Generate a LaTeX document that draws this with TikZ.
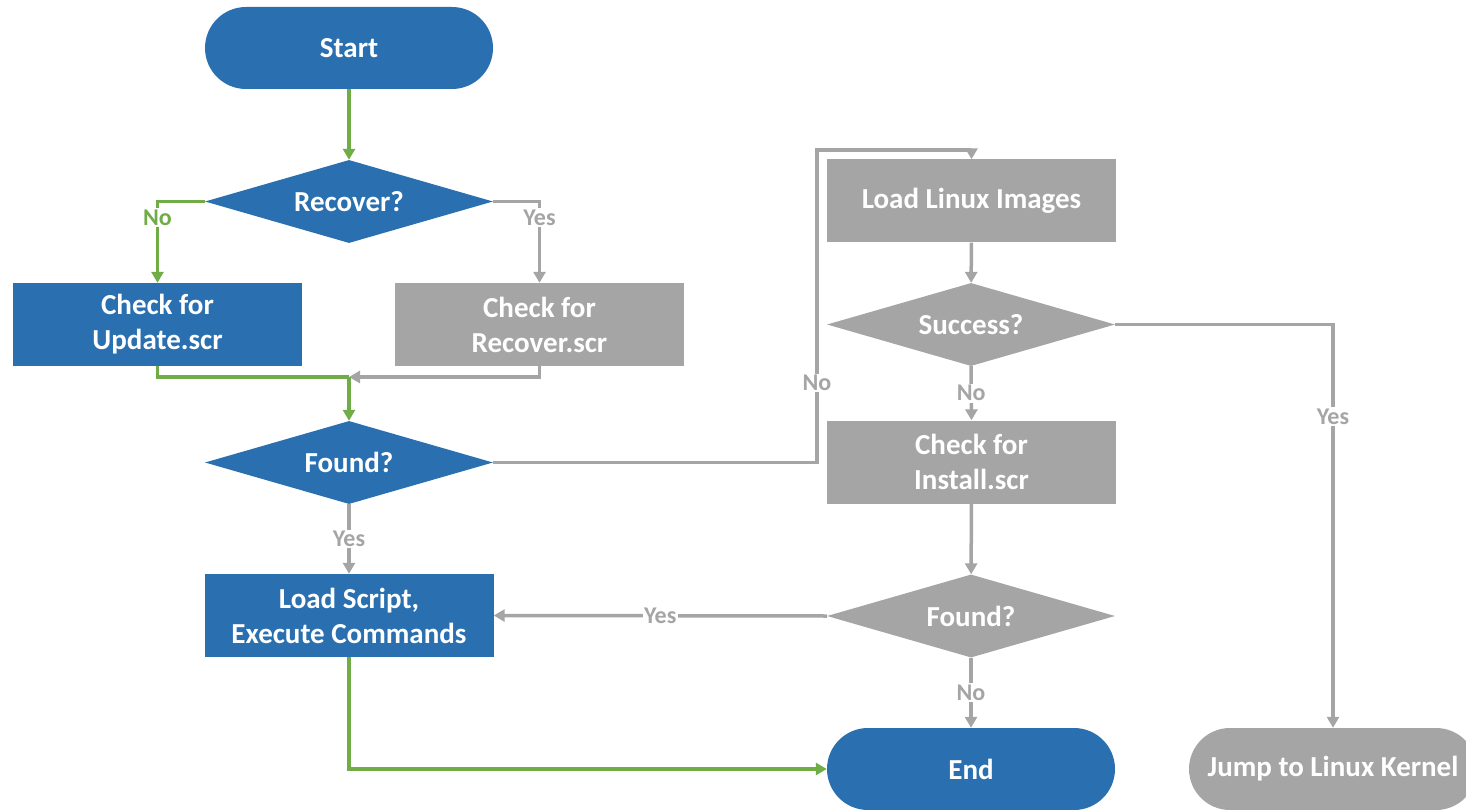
\documentclass[tikz,border=0pt]{standalone}
\usepackage{fontspec}
\setmainfont{Carlito}
\usetikzlibrary{shapes.geometric,arrows.meta}
\definecolor{flowblue}{HTML}{2A70B0}
\definecolor{flowgray}{HTML}{A5A5A5}
\definecolor{flowgreen}{HTML}{70AD47}
\tikzset{
  x=1pt, y=-1pt,
  base/.style={draw=none, text=white, font=\fontsize{29}{35}\selectfont\bfseries, align=center, inner sep=0pt},
  term/.style={base, rectangle, rounded corners=41pt, minimum width=288pt, minimum height=82pt},
  proc/.style={base, rectangle, minimum width=289pt, minimum height=83pt},
  decide/.style={base, diamond, shape aspect=3.47, minimum width=288pt, minimum height=83pt},
  conn/.style={line width=3.5pt, -{Triangle[length=11pt,width=12pt]}},
  gline/.style={conn, draw=flowgray},
  eline/.style={conn, draw=flowgreen},
  lbl/.style={fill=white, inner sep=1.5pt, font=\fontsize{24}{28}\selectfont\bfseries},
  glbl/.style={lbl, text=flowgray},
  elbl/.style={lbl, text=flowgreen},
}
\begin{document}
\begin{tikzpicture}
\useasboundingbox (0,0) rectangle (1466,810);

% left column
\node[term, fill=flowblue] (start) at (349,48) {Start};
\node[decide, fill=flowblue] (recover) at (349,201.5) {Recover?};
\node[proc, fill=flowblue] (update) at (157.5,324.5) {Check for\\Update.scr};
\node[proc, fill=flowgray] (recscr) at (539.5,324.5) {Check for\\Recover.scr};
\node[decide, fill=flowblue] (found1) at (349,462.5) {Found?};
\node[proc, fill=flowblue] (load) at (349,615.5) {Load Script,\\Execute Commands};
\node[term, fill=flowblue] (end) at (971,769) {End};

% right column
\node[proc, fill=flowgray] (images) at (971.5,201) {Load Linux Images};
\node[decide, fill=flowgray] (success) at (971,324.5) {Success?};
\node[proc, fill=flowgray] (install) at (971.5,462) {Check for\\Install.scr};
\node[decide, fill=flowgray] (found2) at (971,616) {Found?};
\node[term, fill=flowgray] (kernel) at (1333,769) {Jump to Linux Kernel};

% helper points
\coordinate (merge) at (349,377);
\coordinate (loopL) at (817,150);

% connectors
\draw[eline] (start) -- (recover);
\draw[eline] (recover.west) -| node[elbl, pos=0.6] {No} (update.north);
\draw[gline] (recover.east) -| node[glbl, pos=0.6] {Yes} (recscr.north);
\draw[line width=3.5pt, draw=flowgreen] (update.south) |- (merge);
\draw[gline] (recscr.south) |- (merge);
\draw[eline] (merge) -- (found1.north);
\draw[gline] (found1.east) -| node[glbl, pos=0.627] {No} (loopL) -| (images.north);
\draw[gline] (found1.south) -- node[glbl] {Yes} (load.north);
\draw[eline] (load.south) |- (end.west);
\draw[gline] (images) -- (success);
\draw[gline] (success.south) -- node[glbl] {No} (install.north);
\draw[gline] (success.east) -| node[glbl, pos=0.614] {Yes} (kernel.north);
\draw[gline] (install) -- (found2);
\draw[gline] (found2.west) -- node[glbl] {Yes} (load.east);
\draw[gline] (found2.south) -- node[glbl] {No} (end.north);
\end{tikzpicture}
\end{document}
